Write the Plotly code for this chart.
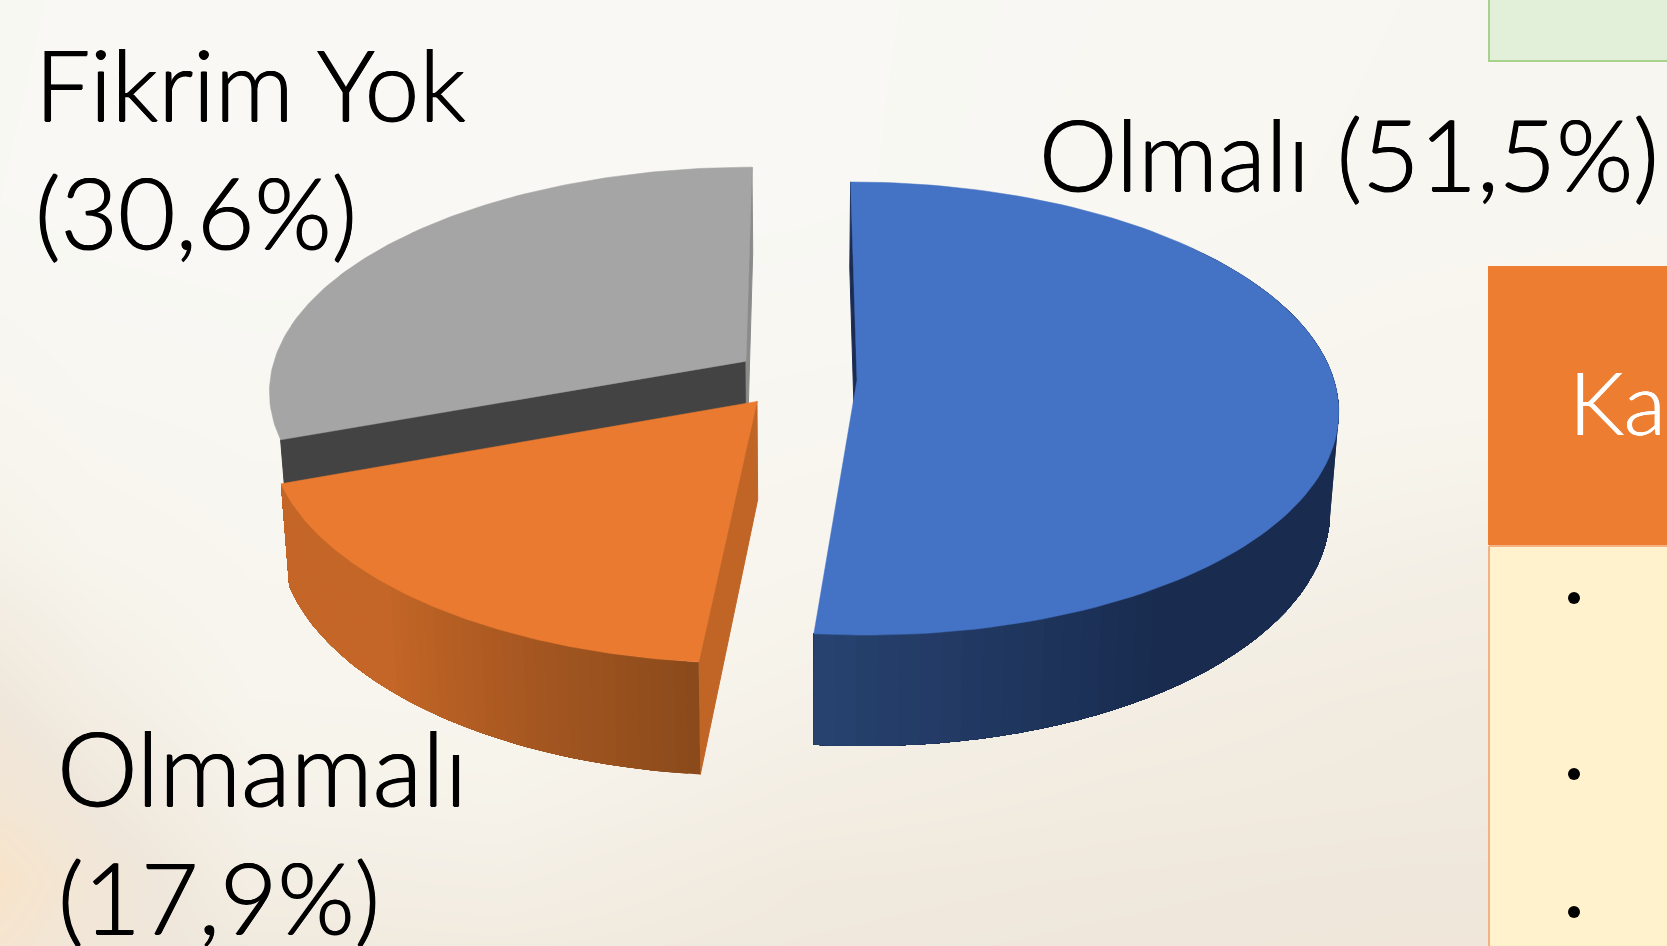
import math
import plotly.graph_objects as go

categories = ["Olmalı", "Olmamalı", "Fikrim Yok"]
shares = [51.5, 17.9, 30.6]
top_colors = ["#4472c4", "#e97a30", "#a5a5a5"]

# background wash (0 = near white, 1 = warm orange)
bg_x = [0, 90, 250, 500, 800, 1100, 1400, 1667]
bg_y = [0, 200, 400, 550, 700, 800, 880, 946]
bg_z = [
    [.06, .04, .02, .03, .04, .07, .10, .11],
    [.05, .03, .02, .03, .04, .08, .11, .12],
    [.14, .10, .08, .08, .11, .13, .16, .18],
    [.24, .18, .13, .12, .17, .20, .26, .30],
    [.40, .30, .18, .17, .24, .30, .34, .36],
    [.52, .40, .24, .22, .30, .34, .36, .38],
    [.72, .48, .30, .28, .36, .38, .40, .40],
    [.60, .45, .36, .34, .38, .40, .42, .42],
]
bg_scale = [[0, "#f9f9f6"], [.2, "#f7f4ec"], [.4, "#efe7db"], [.7, "#f8e4cb"], [1, "#f6d4a8"]]

# projection of the pie plane
XV, Y0, A, B, K, H, S = 800.0, 380.0, 477.0, 223.0, 0.126, 97.0, 0.984
# explosion offset of each slice in the pie plane (radius units)
offset_p = [0.1195, -0.0891, -0.1145]
offset_q = [0.0, 0.095, -0.085]


def project(i, theta_deg):
    t = math.radians(theta_deg)
    return project_uv(i, math.sin(t), -math.cos(t))


def project_uv(i, u, v):
    q = offset_q[i] + v
    w = 1 - K * q
    x = XV + A * (offset_p[i] + u) / w
    y = Y0 + B * q / w
    return x, y, H / w


def lower(x):
    return XV + (x - XV) * S


def hexmix(a, b, f):
    ca = [int(a[j:j + 2], 16) for j in (1, 3, 5)]
    cb = [int(b[j:j + 2], 16) for j in (1, 3, 5)]
    return "#%02x%02x%02x" % tuple(round(p + (r - p) * f) for p, r in zip(ca, cb))


def poly(fig, xs, ys, color, lw=1.0, line_color=None):
    fig.add_trace(go.Scatter(x=xs + xs[:1], y=ys + ys[:1], mode="lines", fill="toself",
                             fillcolor=color, line=dict(color=line_color or color, width=lw),
                             hoverinfo="skip", showlegend=False))


fig = go.Figure()
fig.add_trace(go.Heatmap(x=bg_x, y=bg_y, z=bg_z, zsmooth="best", colorscale=bg_scale,
                         zmin=0, zmax=1, showscale=False, hoverinfo="skip"))

# slice angular limits from the shares
edges = [0.0]
for s in shares:
    edges.append(edges[-1] + s * 3.6)
start = edges[:-1]
end = edges[1:]


def rim(i, a0, a1, n=120):
    return [project(i, a0 + (a1 - a0) * k / n) for k in range(n + 1)]


def side_band(i, a0, a1, col_fn, n=60):
    # overlapping strips: each one runs to the far end so no seams show
    for k in range(n):
        t0 = a0 + (a1 - a0) * k / n
        pts = rim(i, t0, a1, n=max(2, n - k))
        xs = [p[0] for p in pts] + [lower(p[0]) for p in reversed(pts)]
        ys = [p[1] for p in pts] + [p[1] + p[2] for p in reversed(pts)]
        poly(fig, xs, ys, col_fn(k / (n - 1)), lw=0)


def cut_face(i, theta, color):
    xa, ya, da = project_uv(i, 0, 0)
    xe, ye, de = project(i, theta)
    poly(fig, [xa, xe, lower(xe), lower(xa)], [ya, ye, ye + de, ya + da], color)


def top_face(i):
    pts = rim(i, start[i], end[i])
    xa, ya, _ = project_uv(i, 0, 0)
    poly(fig, [p[0] for p in pts] + [xa], [p[1] for p in pts] + [ya], top_colors[i], lw=0.5)


# grey slice (back)
g = 2
side_band(g, start[g], start[g] + 60, lambda f: "#8c8c8c", n=2)
cut_face(g, start[g], "#434343")
cut_face(g, end[g], "#8b8b8b")
top_face(g)

# orange slice
o = 1
cut_face(o, start[o], "#c06526")


def orange_side(f):
    # f=0 at the front (dark) to f=1 at the left (flat)
    return hexmix("#8b4a1b", "#c46627", min(1.0, f / 0.6))


side_band(o, start[o], end[o], orange_side, n=50)
top_face(o)

# blue slice
b = 0
cut_face(b, start[b], "#1a2c52")


def blue_side(f):
    # f=0 on the right to f=1 at the front
    return hexmix("#192c50", "#27426f", max(0.0, (f - 0.72) / 0.28))


side_band(b, 50, end[b], blue_side, n=60)
top_face(b)

# neighbouring panels of the slide
poly(fig, [1489, 1680, 1680, 1489], [-5, -5, 61, 61], "#e2efd9", lw=2, line_color="#a9d18e")
poly(fig, [1489, 1680, 1680, 1489], [546, 546, 960, 960], "#fff2cc", lw=2, line_color="#f4b183")
poly(fig, [1488, 1680, 1680, 1488], [266, 266, 545, 545], "#ed7d31", lw=0)

bullet_y = [598, 774, 912]
fig.add_trace(go.Scatter(x=[1574] * 3, y=bullet_y, mode="markers",
                         marker=dict(color="black", size=12, line=dict(width=0)),
                         hoverinfo="skip", showlegend=False))

FONT = "Lato"
SHADOW_K = "0.7px 0 0 black, -0.7px 0 0 black, 0 0.5px 0 black"
SHADOW_W = "0.5px 0 0 white, -0.5px 0 0 white"


def pct(v):
    return "(" + f"{v:.1f}".replace(".", ",") + "%)"


labels = [
    (f"{categories[0]} {pct(shares[0])}", 1037, 190, 99),
    (categories[2], 33, 120, 98),
    (pct(shares[2]), 33, 248, 99),
    (categories[1], 55, 805, 102),
    (pct(shares[1]), 56, 933, 99),
]
annotations = [
    dict(x=x, y=y, text=t, xref="x", yref="y", xanchor="left", yanchor="bottom",
         yshift=-24 * sz / 99, showarrow=False,
         font=dict(family=FONT, size=sz, color="black", weight=300, shadow=SHADOW_K))
    for t, x, y, sz in labels
]
annotations.append(dict(x=1567, y=435, text="Ka", xref="x", yref="y", xanchor="left",
                        yanchor="bottom", yshift=-21, showarrow=False,
                        font=dict(family=FONT, size=87, color="white", weight=300,
                                  shadow=SHADOW_W)))

fig.update_layout(
    width=1667, height=946, margin=dict(l=0, r=0, t=0, b=0), paper_bgcolor="#f8f6f0",
    plot_bgcolor="#f8f6f0", showlegend=False, annotations=annotations,
    xaxis=dict(range=[0, 1667], visible=False, fixedrange=True),
    yaxis=dict(range=[946, 0], visible=False, fixedrange=True),
)
fig.write_html("out.html", config={"displayModeBar": False},
               post_script="document.body.style.margin='0';document.body.style.overflow='hidden';")
